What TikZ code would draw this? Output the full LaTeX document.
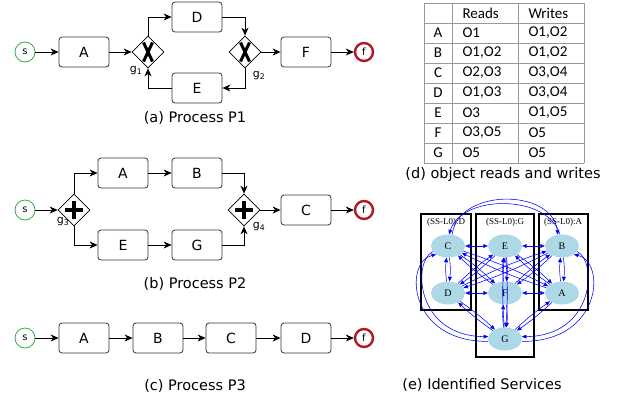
\documentclass[tikz,border=0pt]{standalone}
\usepackage{fontspec}
\setmainfont{DejaVu Sans}
\newfontfamily\tabfont{Carlito}
\newfontfamily\gvfont{Liberation Serif}
\usetikzlibrary{arrows.meta,shapes.geometric,calc}
\definecolor{gvblue}{HTML}{0000FF}
\definecolor{gvfill}{HTML}{ADD8E6}
\definecolor{startgreen}{HTML}{3DAA45}
\definecolor{endred}{HTML}{B0191E}
\newcommand\gwx[1]{\draw[line width=3pt] ($(#1)+(-4.5,-9.5)$)--($(#1)+(4.5,9.5)$) ($(#1)+(4.5,-9.5)$)--($(#1)+(-4.5,9.5)$);}
\newcommand\gwplus[1]{\draw[line width=3.2pt] ($(#1)+(-9,0)$)--($(#1)+(9,0)$) ($(#1)+(0,-9)$)--($(#1)+(0,9)$);}
\begin{document}
\begin{tikzpicture}[x=1pt,y=-1pt,
  task/.style={draw=black!80, line width=0.8pt, rounded corners=3pt, minimum width=50pt, minimum height=30pt, inner sep=0pt, font=\fontsize{14}{16}\selectfont},
  startev/.style={circle, draw=startgreen, line width=0.8pt, minimum size=20pt, inner sep=0pt, font=\fontsize{10}{12}\selectfont},
  endev/.style={circle, draw=endred, line width=2.4pt, minimum size=18pt, inner sep=0pt, font=\fontsize{10}{12}\selectfont},
  gw/.style={diamond, draw=black, line width=0.7pt, minimum width=32pt, minimum height=32pt, inner sep=0pt},
  flow/.style={-{Stealth[length=8pt,width=7pt,inset=2.5pt]}, line width=0.8pt, black},
  glabel/.style={font=\fontsize{11}{13}\selectfont},
  caption/.style={font=\fontsize{14.5}{17}\selectfont},
  tabline/.style={draw=black!40, line width=0.8pt},
  tabtext/.style={font=\tabfont\fontsize{15}{17}\selectfont},
  svc/.style={draw=black, line width=1.2pt},
  svclabel/.style={font=\gvfont\fontsize{9}{10}\selectfont},
  gnode/.style={ellipse, fill=gvfill, minimum width=34pt, minimum height=23pt, inner sep=0pt, font=\gvfont\fontsize{10}{11}\selectfont},
  gedge/.style={draw=gvblue, line width=0.55pt, -{Triangle[length=4.5pt,width=3.8pt]}},
  gboth/.style={draw=gvblue, line width=0.55pt, {Triangle[length=4.5pt,width=3.8pt]}-{Triangle[length=4.5pt,width=3.8pt]}}
]
\useasboundingbox (0,0) rectangle (626,400);

% ---------- (a) Process P1 ----------
\node[startev] (a-s) at (25,52) {s};
\node[task] (a-A) at (84,52) {A};
\node[gw] (a-g1) at (148,52) {};
\node[task] (a-D) at (197,17) {D};
\node[task] (a-E) at (197,88) {E};
\node[gw] (a-g2) at (245,52) {};
\node[task] (a-F) at (306,52) {F};
\node[endev] (a-f) at (364,52) {f};
\gwx{a-g1}
\gwx{a-g2}
\node[glabel] (a-l1) at (136,71) {g\textsubscript{1}};
\node[glabel] (a-l2) at (259,76) {g\textsubscript{2}};
\draw[flow] (a-s) -- (a-A);
\draw[flow] (a-A) -- (a-g1.west);
\draw[flow] (a-g1.north) |- (a-D.west);
\draw[flow] (a-D.east) -| (a-g2.north);
\draw[flow] (a-g2.east) -- (a-F);
\draw[flow] (a-F) -- (a-f);
\draw[flow] (a-g2.south) |- (a-E.east);
\draw[flow] (a-E.west) -| (a-g1.south);
\node[caption] (a-cap) at (195,118) {(a) Process P1};

% ---------- (b) Process P2 ----------
\node[startev] (b-s) at (25,210) {s};
\node[gw] (b-g3) at (74,210) {};
\node[task] (b-A) at (123,173) {A};
\node[task] (b-B) at (197,173) {B};
\node[task] (b-E) at (123,245) {E};
\node[task] (b-G) at (197,245) {G};
\node[gw] (b-g4) at (244,210) {};
\node[task] (b-C) at (306,210) {C};
\node[endev] (b-f) at (364,210) {f};
\gwplus{b-g3}
\gwplus{b-g4}
\node[glabel] (b-l3) at (63,222) {g\textsubscript{3}};
\node[glabel] (b-l4) at (259,227) {g\textsubscript{4}};
\draw[flow] (b-s) -- (b-g3.west);
\draw[flow] (b-g3.north) |- (b-A.west);
\draw[flow] (b-g3.south) |- (b-E.west);
\draw[flow] (b-A) -- (b-B);
\draw[flow] (b-E) -- (b-G);
\draw[flow] (b-B.east) -| (b-g4.north);
\draw[flow] (b-G.east) -| (b-g4.south);
\draw[flow] (b-g4.east) -- (b-C);
\draw[flow] (b-C) -- (b-f);
\node[caption] (b-cap) at (195,284) {(b) Process P2};

% ---------- (c) Process P3 ----------
\node[startev] (c-s) at (25,338) {s};
\node[task] (c-A) at (84,338) {A};
\node[task] (c-B) at (158,338) {B};
\node[task] (c-C) at (231,338) {C};
\node[task] (c-D) at (306,338) {D};
\node[endev] (c-f) at (364,338) {f};
\draw[flow] (c-s) -- (c-A);
\draw[flow] (c-A) -- (c-B);
\draw[flow] (c-B) -- (c-C);
\draw[flow] (c-C) -- (c-D);
\draw[flow] (c-D) -- (c-f);
\node[caption] (c-cap) at (195,386) {(c) Process P3};

% ---------- (d) table ----------
\foreach \yy in {3,23,43,63,83,103,123,143,163} \draw[tabline] (424,\yy) -- (584,\yy);
\foreach \xx in {424,452,518,584} \draw[tabline] (\xx,3) -- (\xx,163);
\node[tabtext,anchor=west] (t-h1) at (459,13) {Reads};
\node[tabtext,anchor=west] (t-h2) at (525,13) {Writes};
\foreach \r/\n/\rd/\wr in {1/A/O1/{O1,O2},2/B/{O1,O2}/{O1,O2},3/C/{O2,O3}/{O3,O4},4/D/{O1,O3}/{O3,O4},5/E/O3/{O1,O5},6/F/{O3,O5}/O5,7/G/O5/O5}{
  \node[tabtext] (t-n\r) at (438,13+20*\r) {\n};
  \node[tabtext,anchor=west] (t-r\r) at (459,13+20*\r) {\rd};
  \node[tabtext,anchor=west] (t-w\r) at (525,13+20*\r) {\wr};
}
\node[caption] (d-cap) at (503,174) {(d) object reads and writes};

% ---------- (e) services ----------
\draw[svc] (421,214) rectangle (471,310);
\draw[svc] (476,214) rectangle (534,357);
\draw[svc] (539,214) rectangle (588,310);
\node[svclabel] (e-l1) at (446,222) {(SS-L0):D};
\node[svclabel] (e-l2) at (505,222) {(SS-L0):G};
\node[svclabel] (e-l3) at (563,222) {(SS-L0):A};
\node[gnode] (g-C) at (448,246) {C};
\node[gnode] (g-E) at (505,246) {E};
\node[gnode] (g-B) at (562,246) {B};
\node[gnode] (g-D) at (448,293) {D};
\node[gnode] (g-F) at (505,293) {F};
\node[gnode] (g-A) at (562,293) {A};
\node[gnode] (g-G) at (505,339) {G};
\draw[gboth] (g-C) -- (g-E);
\draw[gboth] (g-E) -- (g-B);
\draw[gboth] (g-D) -- (g-F);
\draw[gboth] (g-F) -- (g-A);
\foreach \p/\q in {C/D,B/A,E/F,F/G}{
  \draw[gedge] (g-\p) to[bend left=7] (g-\q);
  \draw[gedge] (g-\q) to[bend left=7] (g-\p);
}
\foreach \p/\q in {C/F,C/A,E/D,E/A,B/D,B/F,D/G,A/G,E/G}{
  \draw[gedge] (g-\p) to[bend left=4] (g-\q);
  \draw[gedge] (g-\q) to[bend left=4] (g-\p);
}
\draw[gedge] (g-C.70) .. controls (458,188) and (552,188) .. (g-B.110);
\draw[gedge] (g-B.100) .. controls (548,194) and (462,194) .. (g-C.85);
\draw[gedge] (g-C.200) .. controls (412,262) and (416,336) .. (g-G.172);
\draw[gedge] (g-G.188) .. controls (408,342) and (404,262) .. (g-C.215);
\draw[gedge] (g-B.-20) .. controls (598,262) and (594,336) .. (g-G.8);
\draw[gedge] (g-G.-8) .. controls (602,342) and (606,262) .. (g-B.-35);
\node[caption] (e-cap) at (482,385) {(e) Identified Services};
\end{tikzpicture}
\end{document}
